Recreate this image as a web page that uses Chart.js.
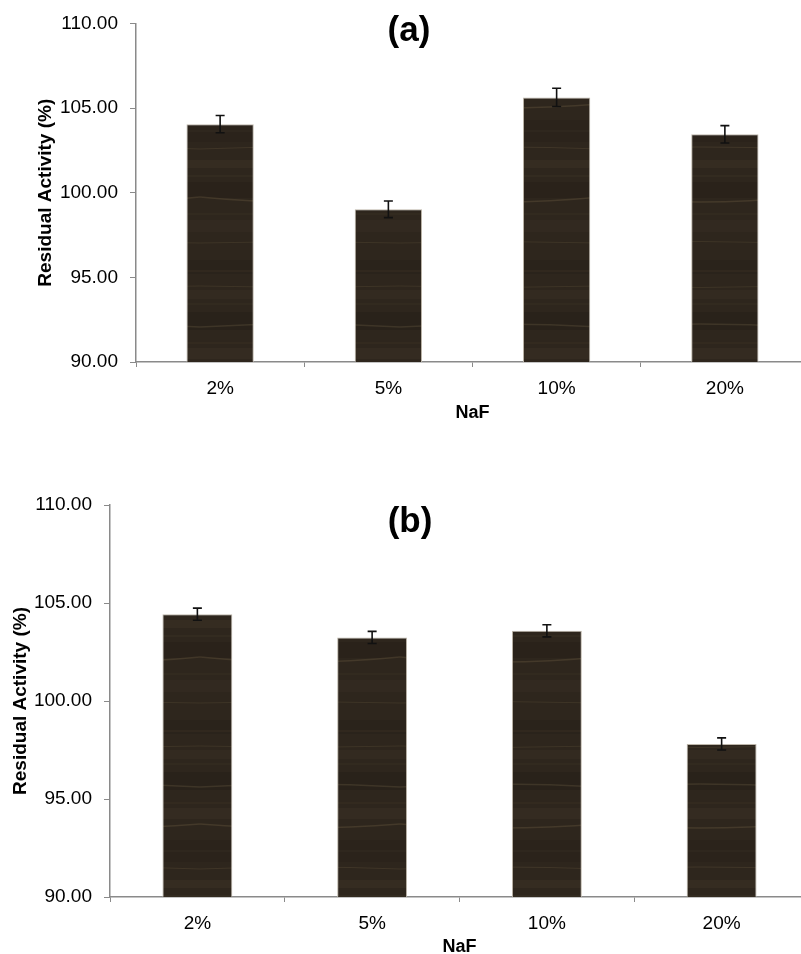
<!DOCTYPE html>
<html>
<head>
<meta charset="utf-8">
<script src="https://cdn.jsdelivr.net/npm/chart.js@4.4.0/dist/chart.umd.min.js"></script>
<style>
  html, body { margin: 0; padding: 0; background: #fff; overflow: hidden; width: 801px; height: 954px; }
  .box { position: absolute; left: 0; width: 810px; }
  #boxA { top: 0; height: 440px; }
  #boxB { top: 460px; height: 500px; }
</style>
</head>
<body>
<div class="box" id="boxA"><canvas id="chartA"></canvas></div>
<div class="box" id="boxB"><canvas id="chartB"></canvas></div>
<script>
// data
const categories = ["2%", "5%", "10%", "20%"];
const valuesA = [104.05, 99.02, 105.63, 103.45];
const errorsA = [0.51, 0.49, 0.54, 0.51];
const valuesB = [104.43, 103.24, 103.58, 97.81];
const errorsB = [0.31, 0.31, 0.31, 0.31];
const yMin = 90, yMax = 110, yStep = 5;

const FONT = "'Liberation Sans', Arial, Helvetica, sans-serif";
const AXIS = "#8a8a8a";

/* ---------- dark wood texture for the bars ---------- */
function woodPattern() {
  const c = document.createElement("canvas");
  c.width = 200; c.height = 260;
  const g = c.getContext("2d");
  g.fillStyle = "#2e261d";
  g.fillRect(0, 0, c.width, c.height);
  // darker / lighter bands: [y, height, colour]
  const bands = [
    [0, 14, "#2a231b"], [30, 9, "#332a20"], [52, 18, "#29221a"], [88, 11, "#342b21"],
    [120, 22, "#2b231b"], [160, 8, "#352c21"], [182, 16, "#2a221a"], [220, 12, "#322920"]
  ];
  bands.forEach(([y, h, col]) => { g.fillStyle = col; g.fillRect(0, y, c.width, h); });
  // faint grain lines: [y, rise over width, alpha, width]
  const streaks = [
    [11, 0, 0.18, 1], [26, 3, 0.22, 1], [44, 0, 0.14, 1], [67, -6, 0.28, 1.5],
    [83, 0, 0.15, 1], [104, 8, 0.3, 1.5], [131, 0, 0.14, 1], [149, -4, 0.24, 1],
    [176, 0, 0.16, 1], [197, 10, 0.3, 1.5], [214, 0, 0.14, 1], [243, -3, 0.22, 1]
  ];
  streaks.forEach(([y, r, a, w]) => {
    g.strokeStyle = `rgba(120,104,74,${a})`;
    g.lineWidth = w;
    g.beginPath();
    g.moveTo(0, y);
    g.quadraticCurveTo(c.width / 2, y + r, c.width, y);
    g.stroke();
  });
  return g.createPattern(c, "repeat");
}

/* ---------- error bars ---------- */
const errorBars = {
  id: "errorBars",
  afterDatasetsDraw(chart) {
    const { ctx } = chart;
    const y = chart.scales.y;
    const ds = chart.data.datasets[0];
    const meta = chart.getDatasetMeta(0);
    ctx.save();
    ctx.strokeStyle = "#111";
    ctx.lineWidth = 1.6;
    meta.data.forEach((bar, i) => {
      const v = ds.data[i], e = ds.errors[i];
      const top = y.getPixelForValue(v + e), bot = y.getPixelForValue(v - e);
      ctx.beginPath();
      ctx.moveTo(bar.x, top); ctx.lineTo(bar.x, bot);
      ctx.moveTo(bar.x - 4.5, top); ctx.lineTo(bar.x + 4.5, top);
      ctx.moveTo(bar.x - 4.5, bot); ctx.lineTo(bar.x + 4.5, bot);
      ctx.stroke();
    });
    ctx.restore();
  }
};

/* ---------- panel label "(a)" / "(b)" ---------- */
const panelLabel = {
  id: "panelLabel",
  afterDraw(chart, args, opts) {
    const { ctx } = chart;
    ctx.save();
    ctx.font = `bold 35px ${FONT}`;
    ctx.fillStyle = "#000";
    ctx.textAlign = "center";
    ctx.textBaseline = "middle";
    ctx.fillText(opts.text, opts.x, opts.y);
    ctx.restore();
  }
};

function makeChart(id, values, errors, p) {
  return new Chart(document.getElementById(id), {
    type: "bar",
    data: {
      labels: categories,
      datasets: [{
        data: values,
        errors,
        backgroundColor: woodPattern(),
        borderColor: "#bdb6aa",
        borderWidth: 1,
        barPercentage: 0.4,
        categoryPercentage: 1
      }]
    },
    options: {
      responsive: true,
      maintainAspectRatio: false,
      animation: false,
      events: [],
      layout: { padding: { top: p.padTop, bottom: p.padBottom, left: 0, right: 1 } },
      plugins: {
        legend: { display: false },
        tooltip: { enabled: false },
        panelLabel: p.label
      },
      scales: {
        x: {
          afterFit: s => { s.height = p.xHeight; },
          grid: { display: true, drawOnChartArea: false, tickLength: 5, color: AXIS, offset: true },
          border: { color: AXIS, width: 1.5 },
          ticks: { color: "#000", font: { family: FONT, size: 19 }, padding: 10 },
          title: { display: true, text: "NaF", color: "#000",
                   font: { family: FONT, size: 18, weight: "bold" }, padding: { top: 0, bottom: 0 } }
        },
        y: {
          min: yMin, max: yMax,
          afterFit: s => { s.width = p.yWidth; },
          grid: { display: true, drawOnChartArea: false, tickLength: 6, color: AXIS },
          border: { color: AXIS, width: 1.5 },
          ticks: { stepSize: yStep, color: "#000", font: { family: FONT, size: 19 }, padding: 12,
                   callback: v => v.toFixed(2) },
          title: { display: true, text: "Residual Activity (%)", color: "#000",
                   font: { family: FONT, size: 19, weight: "bold" }, padding: { top: p.yTitlePad, bottom: 0 } }
        }
      }
    },
    plugins: [errorBars, panelLabel]
  });
}

makeChart("chartA", valuesA, errorsA, {
  padTop: 23, padBottom: 16, xHeight: 62, yWidth: 136, yTitlePad: 34,
  label: { text: "(a)", x: 409, y: 31 }
});
makeChart("chartB", valuesB, errorsB, {
  padTop: 45, padBottom: 2, xHeight: 61, yWidth: 110, yTitlePad: 9,
  label: { text: "(b)", x: 410, y: 62 }
});
</script>
</body>
</html>
